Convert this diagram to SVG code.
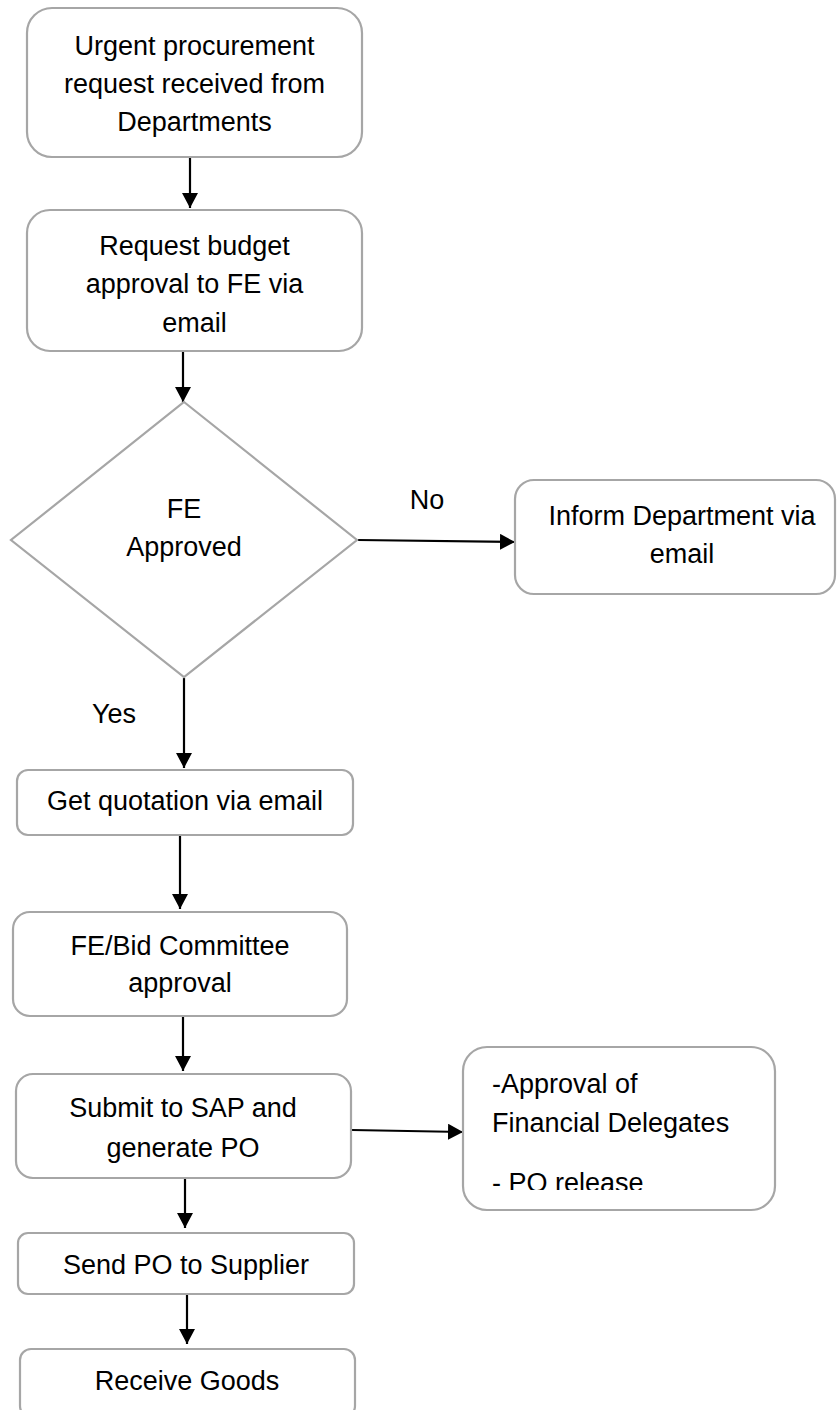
<svg xmlns="http://www.w3.org/2000/svg" width="837" height="1410" viewBox="0 0 837 1410">
  <style>
    .box { fill: #ffffff; stroke: #a6a6a6; stroke-width: 2.2; }
    .lbl { font-family: "Liberation Sans", Arial, sans-serif; font-size: 27px; fill: #000000; }
    .mid { text-anchor: middle; }
    .edge { stroke: #000000; stroke-width: 2.2; fill: none; marker-end: url(#arrow); }
  </style>
  <defs>
    <marker id="arrow" markerUnits="userSpaceOnUse" markerWidth="16" markerHeight="16" refX="15" refY="8" orient="auto">
      <path d="M0,0 L15,8 L0,16 Z" fill="#000000"/>
    </marker>
    <clipPath id="clip-release">
      <rect x="463" y="1040" width="320" height="150"/>
    </clipPath>
  </defs>
  <rect width="837" height="1410" fill="#ffffff"/>

  <!-- connectors -->
  <g id="connectors">
    <line class="edge" x1="190" y1="158" x2="190" y2="208"/>
    <line class="edge" x1="183" y1="352" x2="183" y2="402"/>
    <line class="edge" x1="358" y1="540" x2="515" y2="542"/>
    <line class="edge" x1="184" y1="678" x2="184" y2="768"/>
    <line class="edge" x1="180" y1="836" x2="180" y2="909"/>
    <line class="edge" x1="183" y1="1017" x2="183" y2="1071"/>
    <line class="edge" x1="352" y1="1130" x2="463" y2="1132"/>
    <line class="edge" x1="185" y1="1179" x2="185" y2="1228"/>
    <line class="edge" x1="187" y1="1295" x2="187" y2="1344"/>
    <text class="lbl mid" x="427" y="509">No</text>
    <text class="lbl" x="92" y="723">Yes</text>
  </g>

  <!-- nodes -->
  <g id="request-received">
    <rect class="box" x="27" y="8" width="335" height="149" rx="25"/>
    <text class="lbl mid" x="194.5" y="55">Urgent procurement</text>
    <text class="lbl mid" x="194.5" y="93">request received from</text>
    <text class="lbl mid" x="194.5" y="131">Departments</text>
  </g>

  <g id="budget-approval">
    <rect class="box" x="27" y="210" width="335" height="141" rx="23"/>
    <text class="lbl mid" x="194.5" y="255">Request budget</text>
    <text class="lbl mid" x="194.5" y="293">approval to FE via</text>
    <text class="lbl mid" x="194.5" y="332">email</text>
  </g>

  <g id="fe-approved">
    <polygon class="box" points="184,402 357,540 184,677 11,540"/>
    <text class="lbl mid" x="184" y="518">FE</text>
    <text class="lbl mid" x="184" y="556">Approved</text>
  </g>

  <g id="inform-department">
    <rect class="box" x="515" y="480" width="320" height="114" rx="19"/>
    <text class="lbl mid" x="682" y="525">Inform Department via</text>
    <text class="lbl mid" x="682" y="563">email</text>
  </g>

  <g id="get-quotation">
    <rect class="box" x="17" y="770" width="336" height="65" rx="11"/>
    <text class="lbl mid" x="185" y="810">Get quotation via email</text>
  </g>

  <g id="committee-approval">
    <rect class="box" x="13" y="912" width="334" height="104" rx="17"/>
    <text class="lbl mid" x="180" y="955">FE/Bid Committee</text>
    <text class="lbl mid" x="180" y="992">approval</text>
  </g>

  <g id="submit-sap">
    <rect class="box" x="16" y="1074" width="335" height="104" rx="17"/>
    <text class="lbl mid" x="183" y="1117">Submit to SAP and</text>
    <text class="lbl mid" x="183" y="1157">generate PO</text>
  </g>

  <g id="delegates-release">
    <rect class="box" x="463" y="1047" width="312" height="163" rx="24"/>
    <text class="lbl" x="492" y="1093">-Approval of</text>
    <text class="lbl" x="492" y="1132">Financial Delegates</text>
    <text class="lbl" x="492" y="1192" clip-path="url(#clip-release)">- PO release</text>
  </g>

  <g id="send-po">
    <rect class="box" x="18" y="1233" width="336" height="61" rx="10"/>
    <text class="lbl mid" x="186" y="1274">Send PO to Supplier</text>
  </g>

  <g id="receive-goods">
    <rect class="box" x="20" y="1349" width="335" height="68" rx="11"/>
    <text class="lbl mid" x="187" y="1390">Receive Goods</text>
  </g>
</svg>
